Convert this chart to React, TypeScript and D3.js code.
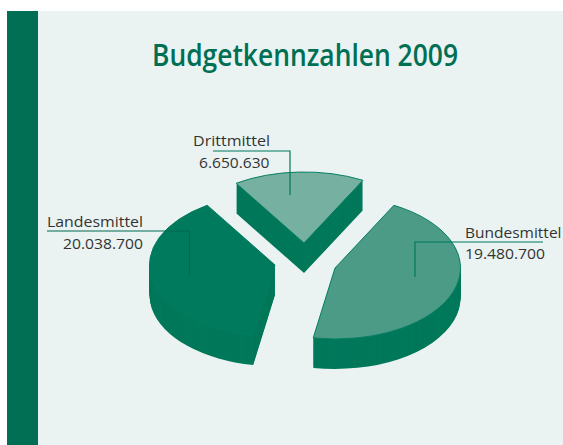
import React from "react";
import * as d3 from "d3";

const categories = ["Drittmittel", "Bundesmittel", "Landesmittel"];
const valueLabels = ["6.650.630", "19.480.700", "20.038.700"];
// Slice angles as drawn in the picture (degrees); the artwork is not proportional to the labels.
const sliceDegrees = [60.7, 162, 137.3];
const topFills = ["#76b0a0", "#4b9b87", "#007a5c"];
const topStrokes = ["#078064", "#078064", "#037d60"];
const title = "Budgetkennzahlen 2009";

const RX = 125.5, SQUASH = 71 / 125.5, DEPTH = 30;
const apex: [number, number][] = [[304, 243], [335, 268], [275, 265]];
const labelPos = [
  { x1: 193, w1: 77, x2: 199, w2: 70.5, y1: 146, y2: 168, line: "M213,151H290V195" },
  { x1: 465, w1: 96.5, x2: 465, w2: 80, y1: 238, y2: 259, line: "M543,242H415V277" },
  { x1: 47, w1: 96, x2: 63, w2: 80, y1: 227, y2: 249, line: "M47,231H189.5V275" },
];

const pie = d3.pie<number>().sort(null).value((d) => d)
  .startAngle((-32.7 * Math.PI) / 180).endAngle(((360 - 32.7) * Math.PI) / 180);
const arcGen = d3.arc<d3.PieArcDatum<number>>().innerRadius(0).outerRadius(RX);
const slices = pie(sliceDegrees);
const FONT = "'Open Sans', sans-serif";

export default function App() {
  return (
    <svg width={563} height={445} style={{ position: "absolute", left: 0, top: 0 }}>
      <rect x={0} y={0} width={563} height={445} fill="#fff" />
      <rect x={7} y={11} width={556} height={434} fill="#eaf3f2" />
      <rect x={7} y={11} width={31} height={434} fill="#006f53" />
      <text x={152} y={66} textLength={306} lengthAdjust="spacingAndGlyphs" fontFamily={FONT} fontWeight={600} fontSize={30} fill="#006f53">{title}</text>
      {slices.map((s, i) => (
        <g key={i}>
          {d3.range(DEPTH, 0, -1).map((d) => (
            <path key={d} d={arcGen(s)!} fill="#00785a"
              transform={`translate(${apex[i][0]},${apex[i][1] + d}) scale(1,${SQUASH})`} />
          ))}
          <path d={arcGen(s)!} fill={topFills[i]} stroke={topStrokes[i]} strokeWidth={1} vectorEffect="non-scaling-stroke"
            transform={`translate(${apex[i][0]},${apex[i][1]}) scale(1,${SQUASH})`} />
        </g>
      ))}
      {categories.map((c, i) => (
        <g key={c}>
          <path d={labelPos[i].line} fill="none" stroke={i === 2 ? "#00694f" : "#00795c"} strokeWidth={1.2} />
          <text x={labelPos[i].x1} y={labelPos[i].y1} textLength={labelPos[i].w1} lengthAdjust="spacingAndGlyphs" fontFamily={FONT} fontSize={15.3} fill="#333">{c}</text>
          <text x={labelPos[i].x2} y={labelPos[i].y2} textLength={labelPos[i].w2} lengthAdjust="spacingAndGlyphs" fontFamily={FONT} fontSize={15.3} fill="#333">{valueLabels[i]}</text>
        </g>
      ))}
    </svg>
  );
}
